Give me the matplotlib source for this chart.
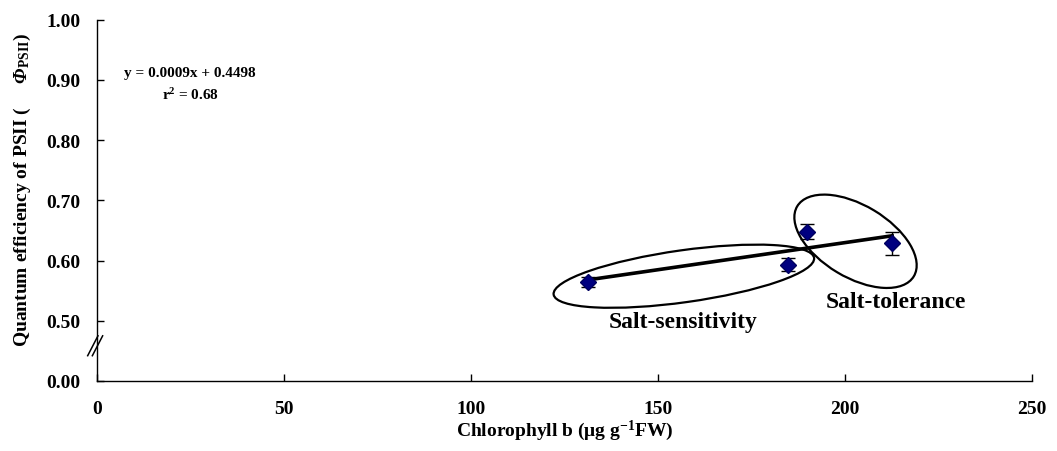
import numpy as np
import matplotlib
matplotlib.use("Agg")
import matplotlib.pyplot as plt
from matplotlib.patches import Ellipse
from matplotlib.transforms import ScaledTranslation

plt.rcParams['font.family'] = ['Liberation Serif', 'DejaVu Serif']
plt.rcParams['font.weight'] = 'bold'
plt.rcParams['axes.labelweight'] = 'bold'
plt.rcParams['mathtext.fontset'] = 'custom'
plt.rcParams['mathtext.rm'] = 'Liberation Serif:bold'
plt.rcParams['mathtext.it'] = 'Liberation Serif:bold:italic'
plt.rcParams['mathtext.bf'] = 'Liberation Serif:bold'
plt.rcParams['mathtext.sf'] = 'Liberation Serif:bold:italic'

# data
chl_b = np.array([131.4, 184.8, 189.7, 212.6])
phi_psii = np.array([0.564, 0.593, 0.648, 0.629])
phi_err = np.array([0.008, 0.011, 0.013, 0.019])
slope, intercept = 0.0009, 0.4498
x_ticks = [0, 50, 100, 150, 200, 250]
y_ticks = [0.0, 0.5, 0.6, 0.7, 0.8, 0.9, 1.0]


# broken y axis: 0 -> 0.5 squeezed into one tick step
def fwd(y):
    y = np.asarray(y, dtype=float)
    return np.where(y >= 0.5, y - 0.4, y * 0.2)


def inv(u):
    u = np.asarray(u, dtype=float)
    return np.where(u >= 0.1, u + 0.4, u / 0.2)


fig = plt.figure(figsize=(10.57, 4.52), dpi=100)
ax = fig.add_axes([0.0918, 0.1549, 0.8846, 0.7993])
ax.set_yscale('function', functions=(fwd, inv))
ax.set_xlim(0, 250)
ax.set_ylim(0, 1.0)

ax.errorbar(chl_b, phi_psii, yerr=phi_err, fmt='D', color='#000080',
            mec='#000060', ms=8, ecolor='black', elinewidth=1, capsize=5,
            capthick=1, zorder=4)

xl = np.array([chl_b.min(), chl_b.max()])
ax.plot(xl, slope * xl + intercept, color='black', lw=2.6, zorder=3)

# group ellipses, sized in pixels around a data-space centre
def group_ellipse(cx, cy, w, h, ang):
    e = Ellipse((0, 0), w, h, angle=ang, fill=False, ec='black', lw=1.6,
                transform=ScaledTranslation(cx, cy, ax.transData), clip_on=False)
    ax.add_patch(e)


group_ellipse(156.9, 0.574, 263, 52, 8)
group_ellipse(202.8, 0.632, 136, 72, -31)

ax.text(156.6, 0.4967, 'Salt-sensitivity', ha='center', va='center', fontsize=17)
ax.text(213.6, 0.532, 'Salt-tolerance', ha='center', va='center', fontsize=17)
ax.text(24.9, 0.913, 'y = 0.0009x + 0.4498', ha='center', va='center', fontsize=11)
ax.text(24.9, 0.877, 'r$^{2}$ = 0.68', ha='center', va='center', fontsize=11)

ax.set_xticks(x_ticks)
ax.set_xticklabels([str(v) for v in x_ticks])
ax.set_yticks(y_ticks)
ax.set_yticklabels(['%.2f' % v for v in y_ticks])
ax.yaxis.set_minor_locator(matplotlib.ticker.NullLocator())
ax.tick_params(direction='in', length=5, width=1, labelsize=14)
ax.tick_params(axis='x', pad=14)
ax.tick_params(axis='y', pad=12)

for s in ['top', 'right']:
    ax.spines[s].set_visible(False)
for s in ['left', 'bottom']:
    ax.spines[s].set_linewidth(1)

ax.set_xlabel('Chlorophyll b (\u03bcg g$^{-1}$FW)', fontsize=14, labelpad=0)
ax.set_ylabel('Quantum efficiency of PSII (     $\\mathsf{\\Phi}_{\\mathrm{PSII}}$)',
              fontsize=14)
ax.yaxis.set_label_coords(-0.068, 0.532)

# axis break marks
for dx in (-0.003, 0.002):
    ax.plot([dx - 0.007, dx + 0.004], [0.07, 0.125], transform=ax.transAxes,
            color='black', lw=1.1, clip_on=False)

fig.savefig('out.png', dpi=100)
